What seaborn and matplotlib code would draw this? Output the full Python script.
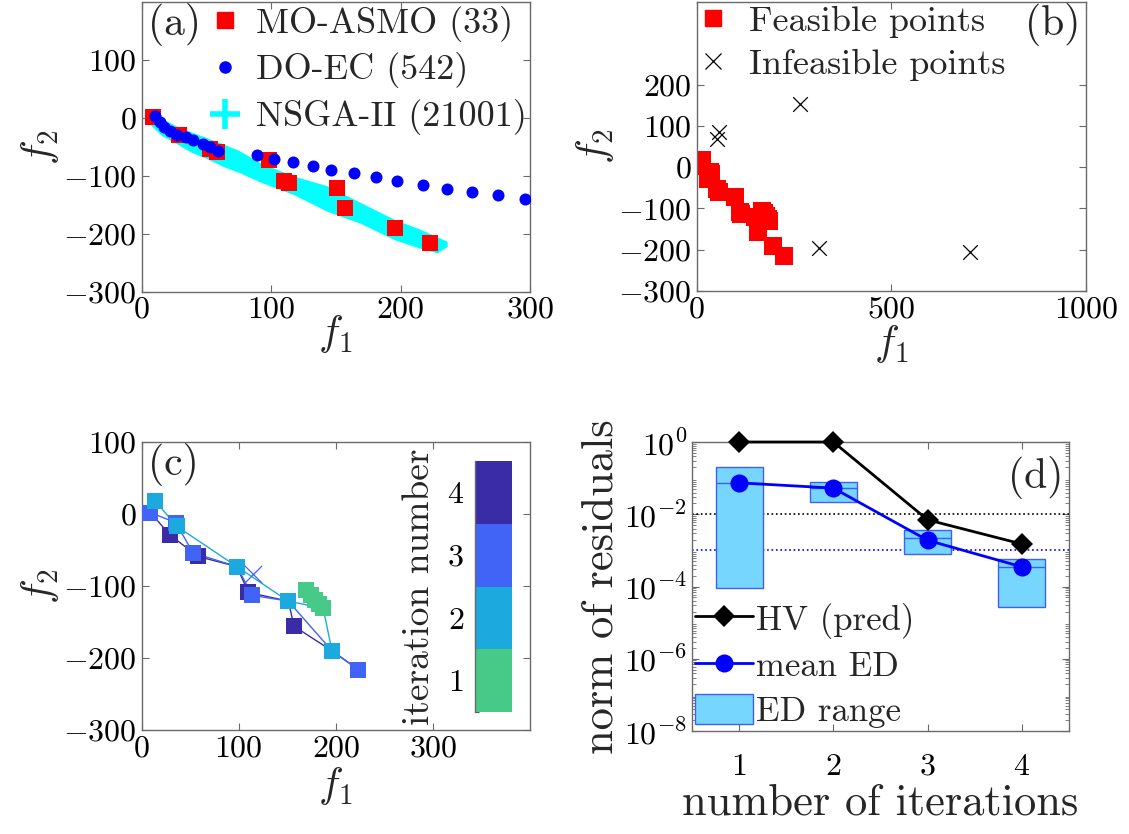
import matplotlib
matplotlib.use("Agg")
import numpy as np
import pandas as pd
import seaborn as sns
import matplotlib.pyplot as plt
from matplotlib.colors import ListedColormap, BoundaryNorm
from matplotlib.cm import ScalarMappable
from matplotlib.lines import Line2D
from matplotlib.patches import Patch
from matplotlib.ticker import FixedLocator, FuncFormatter, LogLocator, NullFormatter

sns.set_style("ticks")
plt.rcParams.update({
    "font.family": ["cmr10", "DejaVu Serif"],
    "mathtext.fontset": "cm",
    "axes.unicode_minus": False,
    "axes.formatter.use_mathtext": True,
    "axes.edgecolor": "#6a6a6a",
    "axes.linewidth": 1.0,
    "xtick.direction": "in",
    "ytick.direction": "in",
    "xtick.top": True,
    "ytick.right": True,
    "xtick.color": "#6a6a6a",
    "ytick.color": "#6a6a6a",
    "xtick.labelcolor": "black",
    "ytick.labelcolor": "black",
    "xtick.major.size": 5,
    "ytick.major.size": 5,
    "font.size": 22,
})

# ---------------- data: panel (a) ----------------
asmo_f1 = [9, 29, 53, 58, 98, 110, 114, 151, 157, 196, 223]
asmo_f2 = [2, -29, -54, -59, -73, -109, -113, -121, -156, -190, -216]

doec_f1 = [10, 14, 17.5, 22, 27, 34, 40, 47, 53, 59, 89, 102, 117, 132, 146,
           164, 181, 197, 217, 236, 255, 275, 296]
doec_f2 = [4, -7.5, -16, -23, -29, -33.5, -39, -45, -51, -58, -64, -71, -77,
           -83, -90, -95, -102, -109, -116, -122, -128, -133, -140]

nsga_f1 = [2, 6, 15, 25, 38, 50, 64, 75, 92, 117, 143, 169, 195, 215, 228, 236]
nsga_upper = [9, 12, 0, -12, -24, -34, -46, -56, -78, -100, -117, -146, -175, -192, -205, -213]
nsga_lower = [-2, -10, -30, -42, -59, -70, -85, -94, -111, -132, -161, -182, -210, -225, -233, -222]

legend_a = ["MO-ASMO (33)", "DO-EC (542)", "NSGA-II (21001)"]

# ---------------- data: panel (c) (iterations) ----------------
it_f1 = {1: [169, 174, 179, 183, 187],
         2: [14, 36, 98, 151, 196],
         3: [9, 35, 53, 114, 223],
         4: [29, 58, 110, 157]}
it_f2 = {1: [-106, -112, -119, -125, -131],
         2: [18, -17, -73, -121, -190],
         3: [2, -12, -54, -113, -216],
         4: [-29, -59, -109, -156]}
front_f1 = {1: [169, 174, 179, 183, 187],
            2: [14, 36, 98, 151, 187, 196],
            3: [9, 35, 53, 98, 114, 151, 196, 223],
            4: [9, 29, 58, 98, 110, 151, 157, 196, 223]}
front_f2 = {1: [-106, -112, -119, -125, -131],
            2: [18, -17, -73, -121, -131, -190],
            3: [2, -12, -54, -73, -113, -121, -190, -216],
            4: [2, -29, -59, -73, -109, -121, -156, -190, -216]}
c_infeas_f1 = [115]
c_infeas_f2 = [-83]
c_infeas_iter = [3]
iter_colors = {1: "#47c987", 2: "#1ba9de", 3: "#4163f6", 4: "#3a2ba6"}

# ---------------- data: panel (b) ----------------
infeas_f1 = [266, 58, 52, 313, 703]
infeas_f2 = [152, 85, 67, -195, -206]
legend_b = ["Feasible points", "Infeasible points"]

# ---------------- data: panel (d) ----------------
iters = [1, 2, 3, 4]
hv_pred = [1.0, 1.0, 7e-3, 1.5e-3]
ed_mean = [0.074, 0.053, 1.9e-3, 3.5e-4]
ed_mid = [0.074, 0.053, 2.2e-3, 3.5e-4]
ed_min = [9e-5, 0.022, 7.9e-4, 2.7e-5]
ed_max = [0.2, 0.079, 3.6e-3, 5.7e-4]
hv_tol = 1e-2
ed_tol = 1e-3
legend_d = ["HV (pred)", "mean ED", "ED range"]

# ------------------------------------------------------------------
W, H = 1129, 834
fig = plt.figure(figsize=(W / 100, H / 100), dpi=100)

def px_axes(l, t, r, b):
    return fig.add_axes([l / W, 1 - b / H, (r - l) / W, (b - t) / H])

axa = px_axes(141.7, 2, 530, 291.7)
axb = px_axes(696.7, 2, 1086, 291)
axc = px_axes(141.7, 442, 530, 730)
axd = px_axes(692, 442, 1069, 731)

TICK_FS = 23
LAB_FS = 30
LEG_FS = 26
TAG_FS = 30

# ---------------- panel (a) ----------------
axa.fill_between(nsga_f1, nsga_lower, nsga_upper, color="#00ffff", lw=0, zorder=1)
sns.scatterplot(x=asmo_f1, y=asmo_f2, ax=axa, marker="s", s=135, color="#ff0000",
                linewidth=0, zorder=2)
sns.scatterplot(x=doec_f1, y=doec_f2, ax=axa, marker="o", s=75, color="#0000ff",
                linewidth=0, zorder=3)
axa.set_xlim(0, 300)
axa.set_ylim(-300, 200)
axa.set_xticks([0, 100, 200, 300])
axa.set_yticks([-300, -200, -100, 0, 100])
handles_a = [Line2D([], [], ls="", marker="s", ms=11, color="#ff0000"),
             Line2D([], [], ls="", marker="o", ms=8, color="#0000ff"),
             Line2D([], [], ls="", marker="+", ms=21, mew=4, color="#00ffff")]
axa.legend(handles_a, legend_a, loc="upper right", frameon=False, fontsize=LEG_FS,
           handlelength=0.7, handletextpad=0.5, borderaxespad=0.0, borderpad=0.1,
           labelspacing=0.3, bbox_to_anchor=(1.0, 1.0))
axa.text(0.015, 0.995, "(a)", transform=axa.transAxes, ha="left", va="top", fontsize=TAG_FS)
axa.set_xlabel("$f_1$", fontsize=LAB_FS, labelpad=-8)
axa.set_ylabel("$f_2$", fontsize=LAB_FS, labelpad=2)

# ---------------- panel (b) ----------------
feas_f1 = sum((it_f1[k] for k in iters), [])
feas_f2 = sum((it_f2[k] for k in iters), [])
sns.scatterplot(x=feas_f1, y=feas_f2, ax=axb, marker="s", s=150, color="#ff0000",
                linewidth=0, zorder=2)
sns.scatterplot(x=infeas_f1, y=infeas_f2, ax=axb, marker="x", s=110, color="black",
                linewidth=0.9, zorder=3)
axb.set_xlim(0, 1000)
axb.set_ylim(-300, 400)
axb.set_xticks([0, 500, 1000])
axb.set_yticks([-300, -200, -100, 0, 100, 200])
handles_b = [Line2D([], [], ls="", marker="s", ms=11, color="#ff0000"),
             Line2D([], [], ls="", marker="x", ms=11, mew=0.9, color="black")]
axb.legend(handles_b, legend_b, loc="upper left", frameon=False, fontsize=LEG_FS,
           handlelength=0.7, handletextpad=0.64, borderaxespad=0.0, borderpad=0.1,
           labelspacing=0.3, bbox_to_anchor=(0.0, 1.0))
axb.text(0.985, 0.995, "(b)", transform=axb.transAxes, ha="right", va="top", fontsize=TAG_FS)
axb.set_xlabel("$f_1$", fontsize=LAB_FS, labelpad=0)
axb.set_ylabel("$f_2$", fontsize=LAB_FS, labelpad=2)

# ---------------- panel (c) ----------------
for k in [4, 3, 2, 1]:
    dfl = pd.DataFrame({"f1": front_f1[k], "f2": front_f2[k]})
    sns.lineplot(data=dfl, x="f1", y="f2", ax=axc, sort=False, color=iter_colors[k],
                 lw=1.0, zorder=2, estimator=None)
for k in [4, 3, 2, 1]:
    sns.scatterplot(x=it_f1[k], y=it_f2[k], ax=axc, marker="s", s=125,
                    color=iter_colors[k], linewidth=0, zorder=3)
sns.scatterplot(x=c_infeas_f1, y=c_infeas_f2, ax=axc, marker="x", s=150,
                color=iter_colors[c_infeas_iter[0]], linewidth=0.9, zorder=3)
axc.set_xlim(0, 400)
axc.set_ylim(-300, 100)
axc.set_xticks([0, 100, 200, 300])
axc.xaxis.set_minor_locator(FixedLocator([400]))
axc.tick_params(axis="x", which="minor", direction="in", length=5, top=True)
axc.set_yticks([-300, -200, -100, 0, 100])
axc.text(0.015, 0.995, "(c)", transform=axc.transAxes, ha="left", va="top", fontsize=TAG_FS)
axc.set_xlabel("$f_1$", fontsize=LAB_FS, labelpad=2)
axc.set_ylabel("$f_2$", fontsize=LAB_FS, labelpad=2)

cax = px_axes(475, 461, 512, 712)
cmap = ListedColormap([iter_colors[k] for k in iters])
norm = BoundaryNorm([0.5, 1.5, 2.5, 3.5, 4.5], 4)
cb = fig.colorbar(ScalarMappable(norm=norm, cmap=cmap), cax=cax, ticks=iters)
cb.outline.set_visible(False)
cax.spines["left"].set_visible(True)
cax.yaxis.set_ticks_position("left")
cax.yaxis.set_label_position("left")
cax.tick_params(axis="y", which="both", direction="in", length=3, right=False,
                labelsize=TICK_FS, color="#333333", pad=8)
cb.set_label("iteration number", fontsize=27, labelpad=8)

# ---------------- panel (d) ----------------
bw = 0.5
lo = np.array(ed_min)
hi = np.array(ed_max)
axd.bar(iters, hi - lo, bottom=lo, width=bw, color="#76d6fe", edgecolor="#3f5ff5",
        linewidth=1.0, zorder=2)
axd.hlines(ed_mid, np.array(iters) - bw / 2, np.array(iters) + bw / 2,
           color="#3f5ff5", lw=1.0, zorder=2)
axd.axhline(hv_tol, color="black", ls=":", lw=1.2, zorder=1)
axd.axhline(ed_tol, color="#0000ff", ls=":", lw=1.2, zorder=1)
dfh = pd.DataFrame({"it": iters, "v": hv_pred})
dfe = pd.DataFrame({"it": iters, "v": ed_mean})
sns.lineplot(data=dfh, x="it", y="v", ax=axd, color="black", lw=2, marker="D",
             markersize=11, markeredgewidth=0, zorder=4, clip_on=False, estimator=None)
sns.lineplot(data=dfe, x="it", y="v", ax=axd, color="#0000ff", lw=2, marker="o",
             markersize=13, markeredgewidth=0, zorder=5, clip_on=False, estimator=None)
axd.set_yscale("log")
axd.set_xlim(0.5, 4.5)
axd.set_ylim(1e-8, 1)
axd.set_xticks(iters)
axd.set_yticks([1e-8, 1e-6, 1e-4, 1e-2, 1])
axd.yaxis.set_major_formatter(FuncFormatter(lambda v, p: r"$10^{%d}$" % int(round(np.log10(v)))))
axd.yaxis.set_minor_locator(LogLocator(base=10, subs=np.arange(2, 10), numticks=20))
axd.yaxis.set_minor_formatter(NullFormatter())
axd.tick_params(axis="y", which="minor", length=3, direction="in", right=True)
handles_d = [Line2D([], [], color="black", lw=2, marker="D", ms=11, mew=0),
             Line2D([], [], color="#0000ff", lw=2, marker="o", ms=13, mew=0),
             Patch(facecolor="#76d6fe", edgecolor="#3f5ff5", lw=1.0)]
axd.legend(handles_d, legend_d, loc="lower left", frameon=False, fontsize=25,
           handlelength=1.65, handleheight=0.95, handletextpad=0.1, borderaxespad=0.0,
           borderpad=0.1, labelspacing=0.3, bbox_to_anchor=(0.0, 0.0))
axd.text(0.985, 0.95, "(d)", transform=axd.transAxes, ha="right", va="top", fontsize=TAG_FS)
axd.set_xlabel("number of iterations", fontsize=32, labelpad=2)
axd.set_ylabel("norm of residuals", fontsize=32, labelpad=2)

for ax in [axa, axb, axc, axd]:
    ax.tick_params(axis="both", which="major", labelsize=TICK_FS, direction="in",
                   top=True, right=True)
    for s in ax.spines.values():
        s.set_visible(True)
axd.tick_params(axis="x", which="major", pad=16)

fig.savefig("out.png", dpi=100)
